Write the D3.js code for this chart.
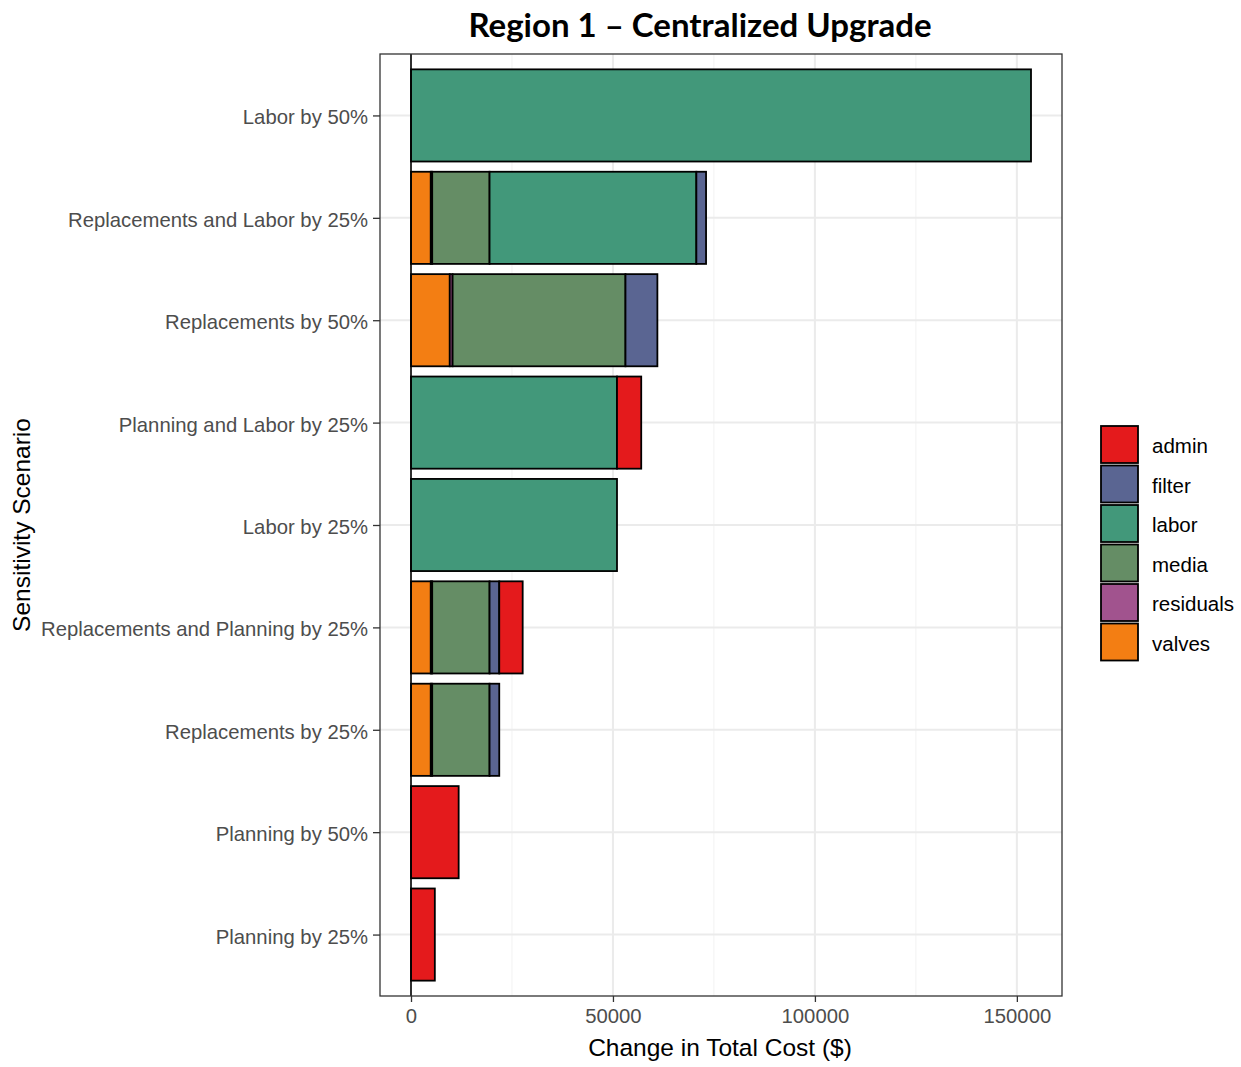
<!DOCTYPE html>
<html><head><meta charset="utf-8">
<script src="https://cdn.jsdelivr.net/npm/d3@7"></script>
<style>body{margin:0;background:#fff;}svg{display:block;}</style>
</head><body>
<svg id="chart" width="1241" height="1067"></svg>
<script>
const scenarios = ["Labor by 50%","Replacements and Labor by 25%","Replacements by 50%","Planning and Labor by 25%","Labor by 25%","Replacements and Planning by 25%","Replacements by 25%","Planning by 50%","Planning by 25%"];
// stacking order from left to right
const components = ["valves","residuals","media","labor","filter","admin"];
const legendOrder = ["admin","filter","labor","media","residuals","valves"];
const valves    = [0,    4900, 9600, 0,    0,    4900, 4900, 0,     0];
const residuals = [0,    350,  700,  0,    0,    350,  350,  0,     0];
const media     = [0,    14200,42800,0,    0,    14200,14200,0,     0];
const labor     = [153500,51200,0,   51000,51000,0,    0,    0,     0];
const filter    = [0,    2400, 7900, 0,    0,    2400, 2400, 0,     0];
const admin     = [0,    0,    0,    6000, 0,    5800, 0,    11800, 5900];
const colors = {admin:"#E41A1C",filter:"#5A6592",labor:"#42987A",media:"#658D65",residuals:"#A1538E",valves:"#F37E13"};
const xTicks = [0,50000,100000,150000];
const xMinor = [25000,75000,125000];

const series = {valves,residuals,media,labor,filter,admin};
const svg = d3.select("#chart");
const P = {l:380,r:1062,t:54,b:996};
const FONT = "'Liberation Sans', Arial, sans-serif";

const totals = scenarios.map((s,i)=>components.reduce((a,c)=>a+series[c][i],0));
const maxV = d3.max(totals);
const pad = maxV*0.05;
const x = d3.scaleLinear().domain([-pad, maxV+pad]).range([P.l,P.r]);
const y = d3.scalePoint().domain(scenarios).range([P.t,P.b]).padding(0.6);
const bh = y.step()*0.9;

// grid
const g = svg.append("g");
g.selectAll(".minor").data(xMinor).join("line")
  .attr("x1",d=>x(d)).attr("x2",d=>x(d)).attr("y1",P.t).attr("y2",P.b)
  .attr("stroke","#F2F2F2").attr("stroke-width",1);
g.selectAll(".major").data(xTicks).join("line")
  .attr("x1",d=>x(d)).attr("x2",d=>x(d)).attr("y1",P.t).attr("y2",P.b)
  .attr("stroke","#EBEBEB").attr("stroke-width",2);
g.selectAll(".hg").data(scenarios).join("line")
  .attr("x1",P.l).attr("x2",P.r).attr("y1",d=>y(d)).attr("y2",d=>y(d))
  .attr("stroke","#EBEBEB").attr("stroke-width",2);

// stacked bars
const rows = scenarios.map((s,i)=>{const o={scenario:s}; components.forEach(c=>o[c]=series[c][i]); return o;});
const stack = d3.stack().keys(components)(rows);
const bars = svg.append("g");
stack.forEach(layer=>{
  bars.selectAll(null).data(layer.filter(d=>d[1]-d[0]>0)).join("rect")
    .attr("x",d=>x(d[0])).attr("width",d=>x(d[1])-x(d[0]))
    .attr("y",d=>y(d.data.scenario)-bh/2).attr("height",bh)
    .attr("fill",colors[layer.key]).attr("stroke","#000").attr("stroke-width",1.8);
});

// vline at zero
svg.append("line").attr("x1",x(0)).attr("x2",x(0)).attr("y1",P.t).attr("y2",P.b)
  .attr("stroke","#000").attr("stroke-width",1.6);

// panel border
svg.append("rect").attr("x",P.l).attr("y",P.t).attr("width",P.r-P.l).attr("height",P.b-P.t)
  .attr("fill","none").attr("stroke","#333").attr("stroke-width",1.3);

// axes
const xa = svg.append("g").attr("transform",`translate(0,${P.b})`)
  .call(d3.axisBottom(x).tickValues(xTicks).tickFormat(d3.format("d")).tickSize(6).tickPadding(7));
const ya = svg.append("g").attr("transform",`translate(${P.l},0)`)
  .call(d3.axisLeft(y).tickSize(7).tickPadding(5));
[xa,ya].forEach(a=>{
  a.select(".domain").remove();
  a.selectAll(".tick line").attr("stroke","#333").attr("stroke-width",1.3);
  a.selectAll("text").attr("fill","#4D4D4D").style("font-family",FONT).style("font-size","20.3px");
});
xa.selectAll("text").attr("dy","0.71em");
ya.selectAll("text").attr("dy","0.42em");

// titles
svg.append("text").attr("x",700).attr("y",37).attr("text-anchor","middle")
  .style("font-family","Lato, 'Open Sans', sans-serif").style("font-weight","bold").style("font-size","33px")
  .text("Region 1 – Centralized Upgrade");
svg.append("text").attr("x",720).attr("y",1056).attr("text-anchor","middle")
  .style("font-family",FONT).style("font-size","24.5px")
  .text("Change in Total Cost ($)");
svg.append("text").attr("transform",`translate(30,${525}) rotate(-90)`).attr("text-anchor","middle")
  .style("font-family",FONT).style("font-size","24.5px")
  .text("Sensitivity Scenario");

// legend
const lg = svg.append("g").attr("transform","translate(1101,426)");
const ls = 39.5;
legendOrder.forEach((k,i)=>{
  lg.append("rect").attr("x",0).attr("y",i*ls).attr("width",37).attr("height",37)
    .attr("fill",colors[k]).attr("stroke","#000").attr("stroke-width",1.8);
  lg.append("text").attr("x",51).attr("y",i*ls+20).attr("dy","0.35em")
    .style("font-family",FONT).style("font-size","20.5px").attr("fill","#000")
    .text(k);
});
</script>
</body></html>
